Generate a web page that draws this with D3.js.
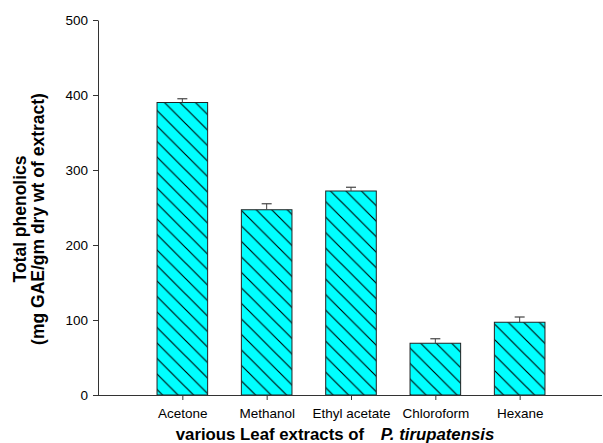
<!DOCTYPE html>
<html>
<head>
<meta charset="utf-8">
<script src="https://cdn.jsdelivr.net/npm/d3@7"></script>
<style>
  html, body { margin: 0; padding: 0; background: #fff; }
  svg { display: block; font-family: "Liberation Sans", Arial, sans-serif; }
</style>
</head>
<body>
<svg id="chart" width="603" height="443"></svg>
<script>
// Total phenolic content of leaf extracts (mean and SD)
const categories = ["Acetone", "Methanol", "Ethyl acetate", "Chloroform", "Hexane"];
const values = [390, 247, 272, 69, 97];
const errors = [5, 8, 5, 6, 7];
const yTicks = [0, 100, 200, 300, 400, 500];

const svg = d3.select("#chart");
const margin = { left: 98, top: 20, bottom: 48 };
const width = 603, height = 443;
const y0 = height - margin.bottom;

const x = d3.scaleLinear().domain([0, categories.length + 1]).range([margin.left, 604]);
const y = d3.scaleLinear().domain([0, 500]).range([y0, margin.top]);
const barW = x(0.6) - x(0);

// diagonal hatch
const defs = svg.append("defs");
const pat = defs.append("pattern")
  .attr("id", "hatch")
  .attr("patternUnits", "userSpaceOnUse")
  .attr("width", 15.5).attr("height", 15.5);
pat.append("rect").attr("width", 15.5).attr("height", 15.5).attr("fill", "#00ffff");
pat.append("path")
  .attr("d", "M-2,-2 L17.5,17.5 M-2,13.5 L2,17.5 M13.5,-2 L17.5,2")
  .attr("stroke", "#000").attr("stroke-width", 1.1);

const bars = svg.append("g");
categories.forEach((c, i) => {
  const cx = x(i + 1);
  bars.append("rect")
    .attr("x", cx - barW / 2)
    .attr("y", y(values[i]))
    .attr("width", barW)
    .attr("height", y0 - y(values[i]))
    .attr("fill", "url(#hatch)")
    .attr("stroke", "#222")
    .attr("stroke-width", 1);
  // upper error bar
  const top = y(values[i] + errors[i]);
  bars.append("line")
    .attr("x1", cx).attr("x2", cx)
    .attr("y1", y(values[i])).attr("y2", top)
    .attr("stroke", "#444").attr("stroke-width", 1);
  bars.append("line")
    .attr("x1", cx - 5).attr("x2", cx + 5)
    .attr("y1", top).attr("y2", top)
    .attr("stroke", "#444").attr("stroke-width", 1.2);
});

// y axis
const yAxis = d3.axisLeft(y).tickValues(yTicks).tickSize(5).tickPadding(5).tickSizeOuter(0);
const gy = svg.append("g").attr("transform", `translate(${margin.left},0)`).call(yAxis);
gy.select(".domain").attr("stroke", "#333");
gy.selectAll(".tick line").attr("stroke", "#333");
gy.selectAll("text").attr("font-size", 13.5).attr("fill", "#000")
  .attr("font-family", "Liberation Sans, Arial, sans-serif");

// x axis
const xAxis = d3.axisBottom(x)
  .tickValues(d3.range(1, categories.length + 1))
  .tickFormat(d => categories[d - 1])
  .tickSize(5).tickPadding(8).tickSizeOuter(0);
const gx = svg.append("g").attr("transform", `translate(0,${y0})`).call(xAxis);
gx.select(".domain").attr("stroke", "#333").attr("d", `M${margin.left},0.5H602`);
gx.selectAll(".tick line").attr("stroke", "#333");
gx.selectAll("text").attr("font-size", 13.5).attr("fill", "#000")
  .attr("font-family", "Liberation Sans, Arial, sans-serif");

// axis titles
const yt = svg.append("text")
  .attr("transform", `translate(0,219) rotate(-90)`)
  .attr("text-anchor", "middle")
  .attr("font-size", 17.5).attr("font-weight", "bold");
yt.append("tspan").attr("x", 0).attr("y", 26).text("Total phenolics");
yt.append("tspan").attr("x", 0).attr("y", 44).text("(mg GAE/gm dry wt of extract)");

const xt = svg.append("text")
  .attr("x", 335).attr("y", 440)
  .attr("text-anchor", "middle")
  .attr("font-size", 16.8).attr("font-weight", "bold");
xt.append("tspan").text("various Leaf extracts of ");
xt.append("tspan").attr("dx", 12).attr("font-style", "italic").text("P. tirupatensis");
</script>
</body>
</html>
